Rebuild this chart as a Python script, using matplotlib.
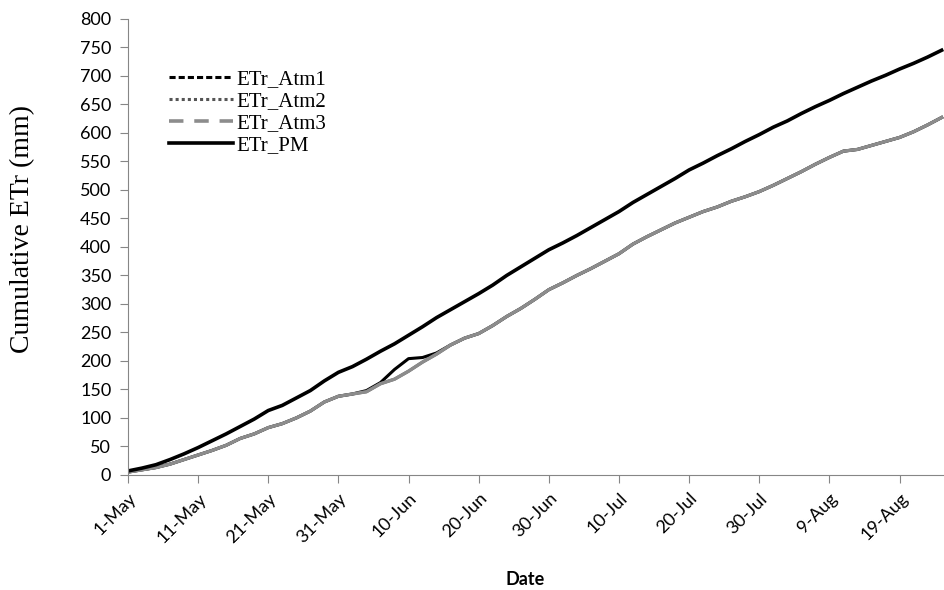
import matplotlib
matplotlib.use("Agg")
import matplotlib.pyplot as plt
from matplotlib.lines import Line2D

# days after 1-May (every 2 days)
days = list(range(0, 118, 2))

etr_pm = [7, 12, 18, 27, 37, 48, 60, 72, 85, 98,
          113, 122, 135, 148, 165, 180, 190, 203, 217, 230,
          245, 260, 276, 290, 304, 318, 333, 350, 365, 380,
          395, 407, 420, 434, 448, 462, 478, 492, 506, 520,
          535, 547, 560, 572, 585, 597, 610, 621, 634, 646,
          657, 669, 680, 691, 701, 712, 722, 733, 745]

etr_atm3 = [5, 9, 13, 19, 27, 35, 43, 52, 64, 72,
            83, 90, 100, 112, 128, 138, 142, 146, 160, 168,
            182, 198, 212, 228, 240, 248, 262, 278, 292, 308,
            325, 337, 350, 362, 375, 388, 405, 418, 430, 442,
            452, 462, 470, 480, 488, 497, 508, 520, 532, 545,
            557, 568, 571, 578, 585, 592, 602, 614, 627]

etr_atm2 = [5, 9, 13, 19, 27, 35, 43, 52, 64, 72,
            83, 90, 100, 112, 128, 138, 142, 146, 160, 168,
            182, 198, 212, 228, 240, 248, 262, 278, 292, 308,
            325, 337, 350, 362, 375, 388, 405, 418, 430, 442,
            452, 462, 470, 480, 488, 497, 508, 520, 532, 545,
            557, 568, 571, 578, 585, 592, 602, 614, 627]

etr_atm1 = [5, 9, 13, 19, 27, 35, 43, 52, 64, 72,
            83, 90, 100, 112, 128, 138, 142, 148, 162, 185,
            204, 206, 214, 228, 240, 248, 262, 278, 292, 308,
            325, 337, 350, 362, 375, 388, 405, 418, 430, 442,
            452, 462, 470, 480, 488, 497, 508, 520, 532, 545,
            557, 568, 571, 578, 585, 592, 602, 614, 627]

tick_days = [0, 10, 20, 30, 40, 50, 60, 70, 80, 90, 100, 110]
tick_labels = ['1-May', '11-May', '21-May', '31-May', '10-Jun', '20-Jun',
               '30-Jun', '10-Jul', '20-Jul', '30-Jul', '9-Aug', '19-Aug']

fig = plt.figure(figsize=(9.45, 5.9), dpi=100)
ax = fig.add_axes([0.1354, 0.195, 0.864, 0.773])

# Excel draws the short dashed segments nearly solid, so plot solid
ax.plot(days, etr_atm1, color='black', lw=2.2)
ax.plot(days, etr_atm2, color='#555555', lw=2.2)
ax.plot(days, etr_atm3, color='#8c8c8c', lw=2.4)
ax.plot(days, etr_pm, color='black', lw=2.6)

ax.set_xlim(0, 116.4)
ax.set_ylim(0, 800)
ax.set_yticks(range(0, 801, 50))
ax.set_xticks(tick_days)
ax.set_xticklabels(tick_labels, rotation=45, ha='right', rotation_mode='anchor')

for s in ['top', 'right']:
    ax.spines[s].set_visible(False)
for s in ['left', 'bottom']:
    ax.spines[s].set_color('#868686')
ax.tick_params(axis='both', color='#868686', length=6, labelsize=13)
ax.tick_params(axis='y', pad=6)
ax.tick_params(axis='x', pad=5)
for lab in ax.get_xticklabels() + ax.get_yticklabels():
    lab.set_fontfamily('Lato')

ax.set_ylabel('Cumulative ETr (mm)', fontfamily='Liberation Serif', fontsize=20)
ax.yaxis.set_label_coords(-0.114, 0.54)
ax.set_xlabel('Date', fontfamily='Lato', fontweight='bold', fontsize=13)
ax.xaxis.set_label_coords(0.487, -0.21)

handles = [
    Line2D([], [], color='black', lw=2.2, linestyle=(0, (2, 1))),
    Line2D([], [], color='#555555', lw=2.2, linestyle=(0, (1, 1))),
    Line2D([], [], color='#8c8c8c', lw=2.6, linestyle=(0, (4, 3))),
    Line2D([], [], color='black', lw=2.6),
]
ax.legend(handles, ['ETr_Atm1', 'ETr_Atm2', 'ETr_Atm3', 'ETr_PM'],
          loc='upper left', bbox_to_anchor=(0.027, 0.93), frameon=False,
          prop={'family': 'Liberation Serif', 'size': 15},
          handlelength=3.1, handletextpad=0.15, labelspacing=0.12)

fig.savefig('out.png', dpi=100)
